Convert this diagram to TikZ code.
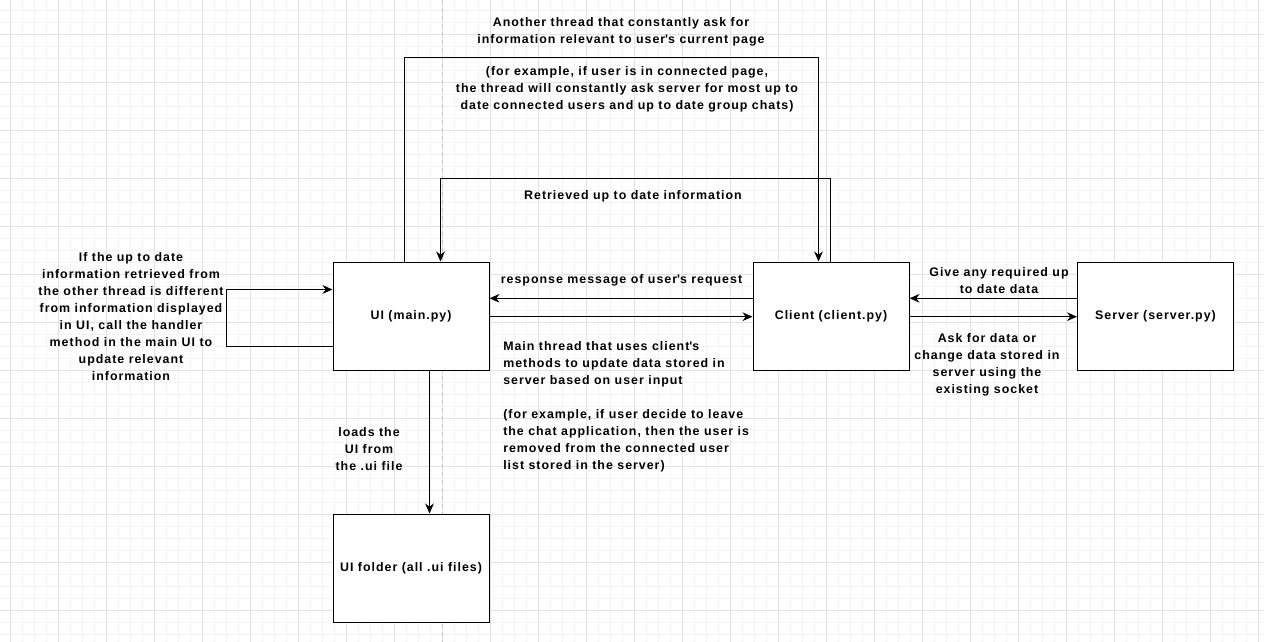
\documentclass[tikz,border=0pt]{standalone}
\usepackage{fontspec}
\setmainfont{Liberation Sans}[LetterSpace=8]
\usetikzlibrary{arrows.meta,calc}
\newcommand{\qs}{\textquotesingle}
\definecolor{gridmajor}{HTML}{E2E2E2}
\definecolor{gridminor}{HTML}{F3F3F3}
\definecolor{pagebrk}{HTML}{C4C4C4}
\tikzset{
  box/.style={draw=black, line width=0.75pt, fill=white, minimum width=117pt, minimum height=81pt, inner sep=0pt, font=\fontsize{9.3pt}{12.75pt}\selectfont\bfseries},
  lbl/.style={inner sep=0pt, align=center, font=\fontsize{9.3pt}{12.75pt}\selectfont\bfseries},
  arr/.style={draw=black, line width=0.75pt, -{Stealth[length=7.5pt,width=6.5pt,inset=2.4pt]}}
}
\begin{document}
\begin{tikzpicture}[x=0.75pt,y=-0.75pt]
\useasboundingbox (0,0) rectangle (1264,642);
\fill[white] (0,0) rectangle (1264,642);
% grid
\foreach \i in {0,...,106} \draw[gridminor, line width=0.75pt] ({-1.3+12*\i},0) -- ({-1.3+12*\i},642);
\foreach \i in {0,...,54} \draw[gridminor, line width=0.75pt] (0,{10.3+12*\i}) -- (1264,{10.3+12*\i});
\foreach \i in {0,...,26} \draw[gridmajor, line width=0.75pt] ({10.7+48*\i},0) -- ({10.7+48*\i},642);
\foreach \i in {0,...,12} \draw[gridmajor, line width=0.75pt] (0,{34.3+48*\i}) -- (1264,{34.3+48*\i});
% page break
\draw[pagebrk, line width=0.75pt, dash pattern=on 3pt off 3pt] (442.7,0) -- (442.7,642);

% boxes
\node[box] (ui) at (411,316) {UI (main.py)};
\node[box] (client) at (831,316) {Client (client.py)};
\node[box] (server) at (1155.5,316) {Server (server.py)};
\node[box] (folder) at (411,568) {UI folder (all .ui files)};

% connectors
\draw[arr] ($(ui.north west)+(72,0)$) -- ++(0,-204) -| ($(client.north west)+(66,0)$);
\draw[arr] ($(client.north west)+(78,0)$) -- ++(0,-83) -| ($(ui.north west)+(108,0)$);
\draw[arr] ($(ui.south west)+(0,-24)$) -- ++(-106,0) |- ($(ui.north west)+(0,28)$);
\draw[arr] ($(ui.east)+(0,0.7)$) -- ($(client.west)+(0,0.7)$);
\draw[arr] ($(client.west)+(0,-17.7)$) -- ($(ui.east)+(0,-17.7)$);
\draw[arr] ($(client.east)+(0,0.7)$) -- ($(server.west)+(0,0.7)$);
\draw[arr] ($(server.west)+(0,-17.7)$) -- ($(client.east)+(0,-17.7)$);
\draw[arr] ($(ui.south west)+(97,0)$) -- ($(folder.north west)+(97,0)$);

% labels
\node[lbl] (t1) at (621,31.5) {Another thread that constantly ask for\\information relevant to user\qs s current page};
\node[lbl] (t2) at (627,89) {(for example, if user is in connected page,\\the thread will constantly ask server for most up to\\date connected users and up to date group chats)};
\node[lbl] (t3) at (633,196) {Retrieved up to date information};
\node[lbl] (t4) at (131,316.5) {If the up to date\\information retrieved from\\the other thread is different\\from information displayed\\in UI, call the handler\\method in the main UI to\\update relevant\\information};
\node[lbl] (t5) at (621.5,280) {response message of user\qs s request};
\node[lbl, align=left, anchor=west] (t6) at (503,407) {Main thread that uses client\qs s\\methods to update data stored in\\server based on user input\\[12.75pt](for example, if user decide to leave\\the chat application, then the user is\\removed from the connected user\\list stored in the server)};
\node[lbl] (t7) at (999,280.5) {Give any required up\\to date data};
\node[lbl] (t8) at (987,364.5) {Ask for data or\\change data stored in\\server using the\\existing socket};
\node[lbl] (t9) at (369,449) {loads the\\UI from\\the .ui file};
\end{tikzpicture}
\end{document}
